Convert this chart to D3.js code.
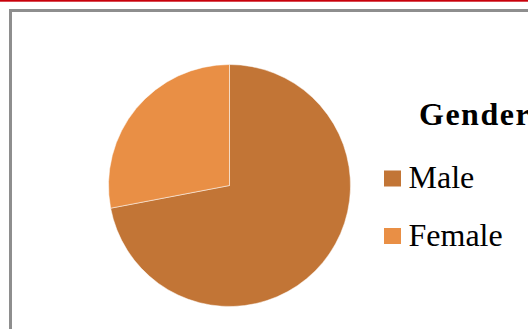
<!DOCTYPE html>
<html>
<head>
<meta charset="utf-8">
<script src="https://cdn.jsdelivr.net/npm/d3@7"></script>
<style>
  body { margin: 0; background: #fff; }
  svg { display: block; }
  .lg { font-family: "Liberation Serif", "Times New Roman", Times, "DejaVu Serif", serif; }
</style>
</head>
<body>
<svg width="528" height="329"></svg>
<script>
// gender split (~259 deg of 360)
var categories = ["Male", "Female"];
var shares = [72, 28];
var sliceColors = ["#c27536", "#e98f45"];
var legendTitle = "Gender";

var svg = d3.select("svg");

// red rule along the top of the page
svg.append("rect")
  .attr("x", 0).attr("y", 0)
  .attr("width", 528).attr("height", 1.7)
  .attr("fill", "#c8000a");

// chart frame (runs off the right and bottom edge)
svg.append("rect")
  .attr("x", 10.5).attr("y", 10.5)
  .attr("width", 600).attr("height", 400)
  .attr("fill", "#fff")
  .attr("stroke", "#8e8e8e")
  .attr("stroke-width", 3);

var data = categories.map(function (c, i) {
  return { name: c, value: shares[i], color: sliceColors[i] };
});

var pie = d3.pie().sort(null).value(function (d) { return d.value; });
var arc = d3.arc().innerRadius(0).outerRadius(121);

var pieG = svg.append("g").attr("transform", "translate(229.5,185.5)");
pieG.selectAll("path")
  .data(pie(data))
  .enter()
  .append("path")
  .attr("d", arc)
  .attr("fill", function (d) { return d.data.color; })
  .attr("stroke", "#fff")
  .attr("stroke-width", 0.5);

// legend
var legend = svg.append("g").attr("class", "lg");
legend.append("text")
  .attr("x", 419).attr("y", 125)
  .style("font-weight", "bold")
  .style("font-size", "32px")
  .style("letter-spacing", "1.5px")
  .attr("fill", "#000")
  .text(legendTitle);

var rowY = d3.scalePoint().domain(categories).range([188, 245.5]);

var items = legend.selectAll("g.item")
  .data(data)
  .enter()
  .append("g")
  .attr("class", "item")
  .attr("transform", function (d) { return "translate(0," + rowY(d.name) + ")"; });

items.append("rect")
  .attr("x", 384).attr("y", -17.5)
  .attr("width", 17).attr("height", 16)
  .attr("fill", function (d) { return d.color; });

items.append("text")
  .attr("x", 408.5).attr("y", 0)
  .style("font-size", "32px")
  .attr("fill", "#000")
  .text(function (d) { return d.name; });
</script>
</body>
</html>
